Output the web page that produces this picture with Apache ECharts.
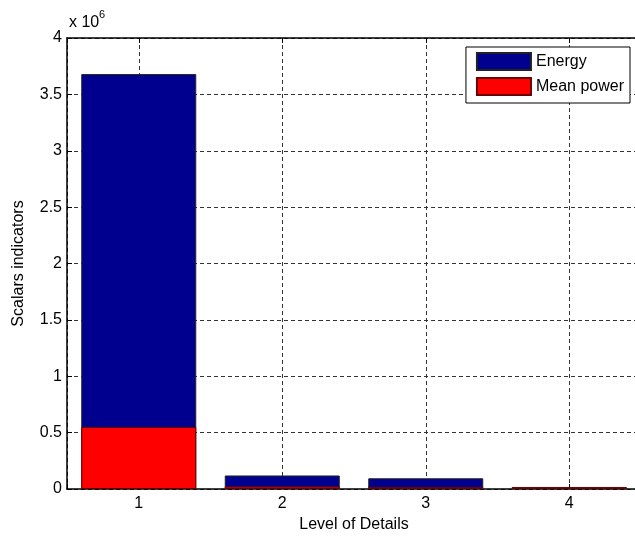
<!DOCTYPE html>
<html>
<head>
<meta charset="utf-8">
<script src="https://cdn.jsdelivr.net/npm/echarts@6/dist/echarts.min.js"></script>
<style>
  html, body { margin: 0; padding: 0; background: #fff; }
  #bar { width: 635px; height: 536px; }
</style>
</head>
<body>
<div id="bar"></div>
<script>
// data
var levels = [1, 2, 3, 4];
var energy = [3.68e6, 0.12e6, 0.095e6, 0.018e6];
var meanPower = [0.55e6, 0.022e6, 0.018e6, 0.015e6];
var yTicks = [0, 0.5, 1, 1.5, 2, 2.5, 3, 3.5, 4];

var myChart = echarts.init(document.getElementById('bar'));

function pairs(vals) {
    return levels.map(function (x, i) { return [x, vals[i]]; });
}

var font = 'Liberation Sans, Arial, Helvetica, sans-serif';
var dashed = { color: '#333', width: 1, type: [4, 3] };

var option = {
    backgroundColor: '#fff',
    animation: false,
    textStyle: { fontFamily: font, color: '#000' },
    // the "x 10^6" exponent note above the y axis
    graphic: [
        { type: 'text', left: 69, top: 15, style: { text: 'x 10', font: '16px ' + font, fill: '#000' } },
        { type: 'text', left: 99, top: 9, style: { text: '6', font: '11px ' + font, fill: '#000' } }
    ],
    legend: {
        orient: 'vertical',
        right: 5,
        top: 47,
        data: ['Energy', 'Mean power'],
        backgroundColor: '#fff',
        borderColor: '#000',
        borderWidth: 1,
        borderRadius: 0,
        padding: [5, 6, 7, 10],
        itemGap: 6,
        itemWidth: 54,
        itemHeight: 17,
        icon: 'rect',
        textStyle: { fontFamily: font, fontSize: 16, color: '#000' }
    },
    grid: {
        left: 67,
        width: 574,
        top: 38,
        bottom: 47,
        containLabel: false,
        outerBoundsMode: 'none'
    },
    xAxis: [
        {
            type: 'value',
            min: 0.5,
            max: 4.5,
            position: 'bottom',
            name: 'Level of Details',
            nameLocation: 'middle',
            nameGap: 20,
            nameTextStyle: { fontFamily: font, fontSize: 16, color: '#000' },
            axisLine: { show: true, lineStyle: { color: '#000', width: 1.5 } },
            axisTick: { show: true, inside: true, length: 5, lineStyle: { color: '#000' } },
            axisLabel: {
                fontFamily: font, fontSize: 16, color: '#000', margin: 7,
                formatter: function (v) { return levels.indexOf(v) >= 0 ? String(v) : ''; }
            },
            splitLine: { show: true, lineStyle: dashed }
        },
        {
            type: 'value',
            min: 0.5,
            max: 4.5,
            position: 'top',
            axisLine: { show: true, lineStyle: { color: '#000', width: 1.5 } },
            axisTick: { show: true, inside: true, length: 5, lineStyle: { color: '#000' } },
            axisLabel: { show: false },
            splitLine: { show: false }
        }
    ],
    yAxis: {
        type: 'value',
        min: 0,
        max: 4e6,
        interval: 0.5e6,
        name: 'Scalars indicators',
        nameLocation: 'middle',
        nameGap: 40,
        nameTextStyle: { fontFamily: font, fontSize: 16, color: '#000' },
        axisLine: { show: true, lineStyle: { color: '#000', width: 1.5 } },
        axisTick: { show: true, inside: true, length: 5, lineStyle: { color: '#000' } },
        axisLabel: {
            fontFamily: font, fontSize: 16, color: '#000', margin: 5,
            formatter: function (v) { return String(yTicks[Math.round(v / 0.5e6)]); }
        },
        splitLine: { show: true, lineStyle: dashed }
    },
    series: [
        {
            name: 'Energy',
            type: 'bar',
            xAxisIndex: 0,
            barWidth: 115,
            barGap: '-100%',
            itemStyle: { color: '#00008F', borderColor: '#222', borderWidth: 1 },
            data: pairs(energy)
        },
        {
            name: 'Mean power',
            type: 'bar',
            xAxisIndex: 0,
            barWidth: 115,
            barGap: '-100%',
            itemStyle: { color: '#FF0000', borderColor: '#6b0000', borderWidth: 1 },
            data: pairs(meanPower)
        }
    ]
};

myChart.setOption(option);
</script>
</body>
</html>
